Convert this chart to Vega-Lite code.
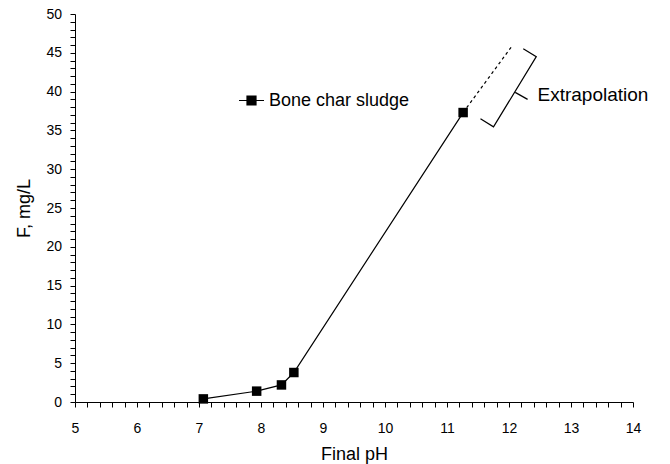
{
  "$schema": "https://vega.github.io/schema/vega-lite/v6.json",
  "width": 558,
  "height": 388,
  "autosize": "none",
  "padding": {"left": 75, "top": 14, "right": 37, "bottom": 62},
  "background": "white",
  "config": {
    "view": {"stroke": null},
    "font": "Liberation Sans",
    "axis": {"grid": false, "domainColor": "black", "tickColor": "black", "labelColor": "black", "titleColor": "black", "labelFont": "Liberation Sans", "titleFont": "Liberation Sans", "labelFontSize": 14, "titleFontSize": 18, "titleFontWeight": "normal", "domainWidth": 1, "tickWidth": 1, "labelOverlap": false, "tickSize": 5}
  },
  "datasets": {
    "main": [
      {"ph": 7.07, "f": 0.4, "series": "Bone char sludge"},
      {"ph": 7.93, "f": 1.4, "series": "Bone char sludge"},
      {"ph": 8.33, "f": 2.2, "series": "Bone char sludge"},
      {"ph": 8.53, "f": 3.8, "series": "Bone char sludge"},
      {"ph": 11.26, "f": 37.3, "series": "Bone char sludge"}
    ],
    "extrap": [
      {"ph": 11.26, "f": 37.3},
      {"ph": 12.06, "f": 46.0}
    ],
    "bracket": [
      {"ph": 11.54, "f": 36.5, "seg": "a", "o": 1},
      {"ph": 11.75, "f": 35.46, "seg": "a", "o": 2},
      {"ph": 12.44, "f": 44.5, "seg": "a", "o": 3},
      {"ph": 12.23, "f": 45.52, "seg": "a", "o": 4},
      {"ph": 12.1, "f": 39.9, "seg": "b", "o": 1},
      {"ph": 12.3, "f": 39.0, "seg": "b", "o": 2}
    ],
    "note": [
      {"ph": 12.46, "f": 39.5, "label": "Extrapolation"}
    ]
  },
  "encoding": {
    "x": {"field": "ph", "type": "quantitative", "scale": {"domain": [5, 14], "nice": false},
      "axis": {"title": "Final pH",
        "values": [5,5.2,5.4,5.6,5.8,6,6.2,6.4,6.6,6.8,7,7.2,7.4,7.6,7.8,8,8.2,8.4,8.6,8.8,9,9.2,9.4,9.6,9.8,10,10.2,10.4,10.6,10.8,11,11.2,11.4,11.6,11.8,12,12.2,12.4,12.6,12.8,13,13.2,13.4,13.6,13.8,14],
        "labelExpr": "abs(datum.value - round(datum.value)) < 0.001 ? format(datum.value, 'd') : ''",
        "labelPadding": 14, "titlePadding": 10, "labelFlush": false,
        "encoding": {"ticks": {"update": {
          "y": {"signal": "abs(datum.value - round(datum.value)) < 0.001 ? 5 : 0"},
          "y2": {"signal": "abs(datum.value - round(datum.value)) < 0.001 ? -3 : -4"}
        }}}}},
    "y": {"field": "f", "type": "quantitative", "scale": {"domain": [0, 50], "nice": false},
      "axis": {"title": "F, mg/L",
        "values": [0,1,2,3,4,5,6,7,8,9,10,11,12,13,14,15,16,17,18,19,20,21,22,23,24,25,26,27,28,29,30,31,32,33,34,35,36,37,38,39,40,41,42,43,44,45,46,47,48,49,50],
        "labelExpr": "datum.value % 5 === 0 ? format(datum.value, 'd') : ''",
        "labelPadding": 8.5, "titlePadding": 12, "labelFlush": false,
        "encoding": {"ticks": {"update": {
          "x": {"signal": "datum.value % 5 === 0 ? -6 : 0"},
          "x2": {"signal": "datum.value % 5 === 0 ? 5 : 4"}
        }}}}}
  },
  "layer": [
    {
      "data": {"name": "extrap"},
      "mark": {"type": "line", "color": "black", "strokeWidth": 1.2, "strokeDash": [3, 3]}
    },
    {
      "data": {"name": "bracket"},
      "mark": {"type": "line", "color": "black", "strokeWidth": 1.2},
      "encoding": {
        "detail": {"field": "seg"},
        "order": {"field": "o"}
      }
    },
    {
      "data": {"name": "main"},
      "mark": {"type": "line", "strokeWidth": 1.2},
      "encoding": {
        "color": {"field": "series", "type": "nominal", "scale": {"range": ["black"]},
          "legend": {"title": null, "orient": "none", "legendX": 163, "legendY": 73, "padding": 0,
            "symbolType": "M-1,0H1M-0.36,-0.36H0.36V0.36H-0.36Z", "symbolSize": 625,
            "symbolFillColor": "black", "symbolStrokeColor": "black", "symbolStrokeWidth": 1.2,
            "labelFont": "Liberation Sans", "labelFontSize": 18, "labelColor": "black", "labelOffset": 4}}
      }
    },
    {
      "data": {"name": "main"},
      "mark": {"type": "point", "shape": "square", "filled": true, "color": "black", "size": 90, "opacity": 1}
    },
    {
      "data": {"name": "note"},
      "mark": {"type": "text", "align": "left", "baseline": "middle", "fontSize": 19, "font": "Liberation Sans", "color": "black"},
      "encoding": {
        "text": {"field": "label"}
      }
    }
  ]
}
